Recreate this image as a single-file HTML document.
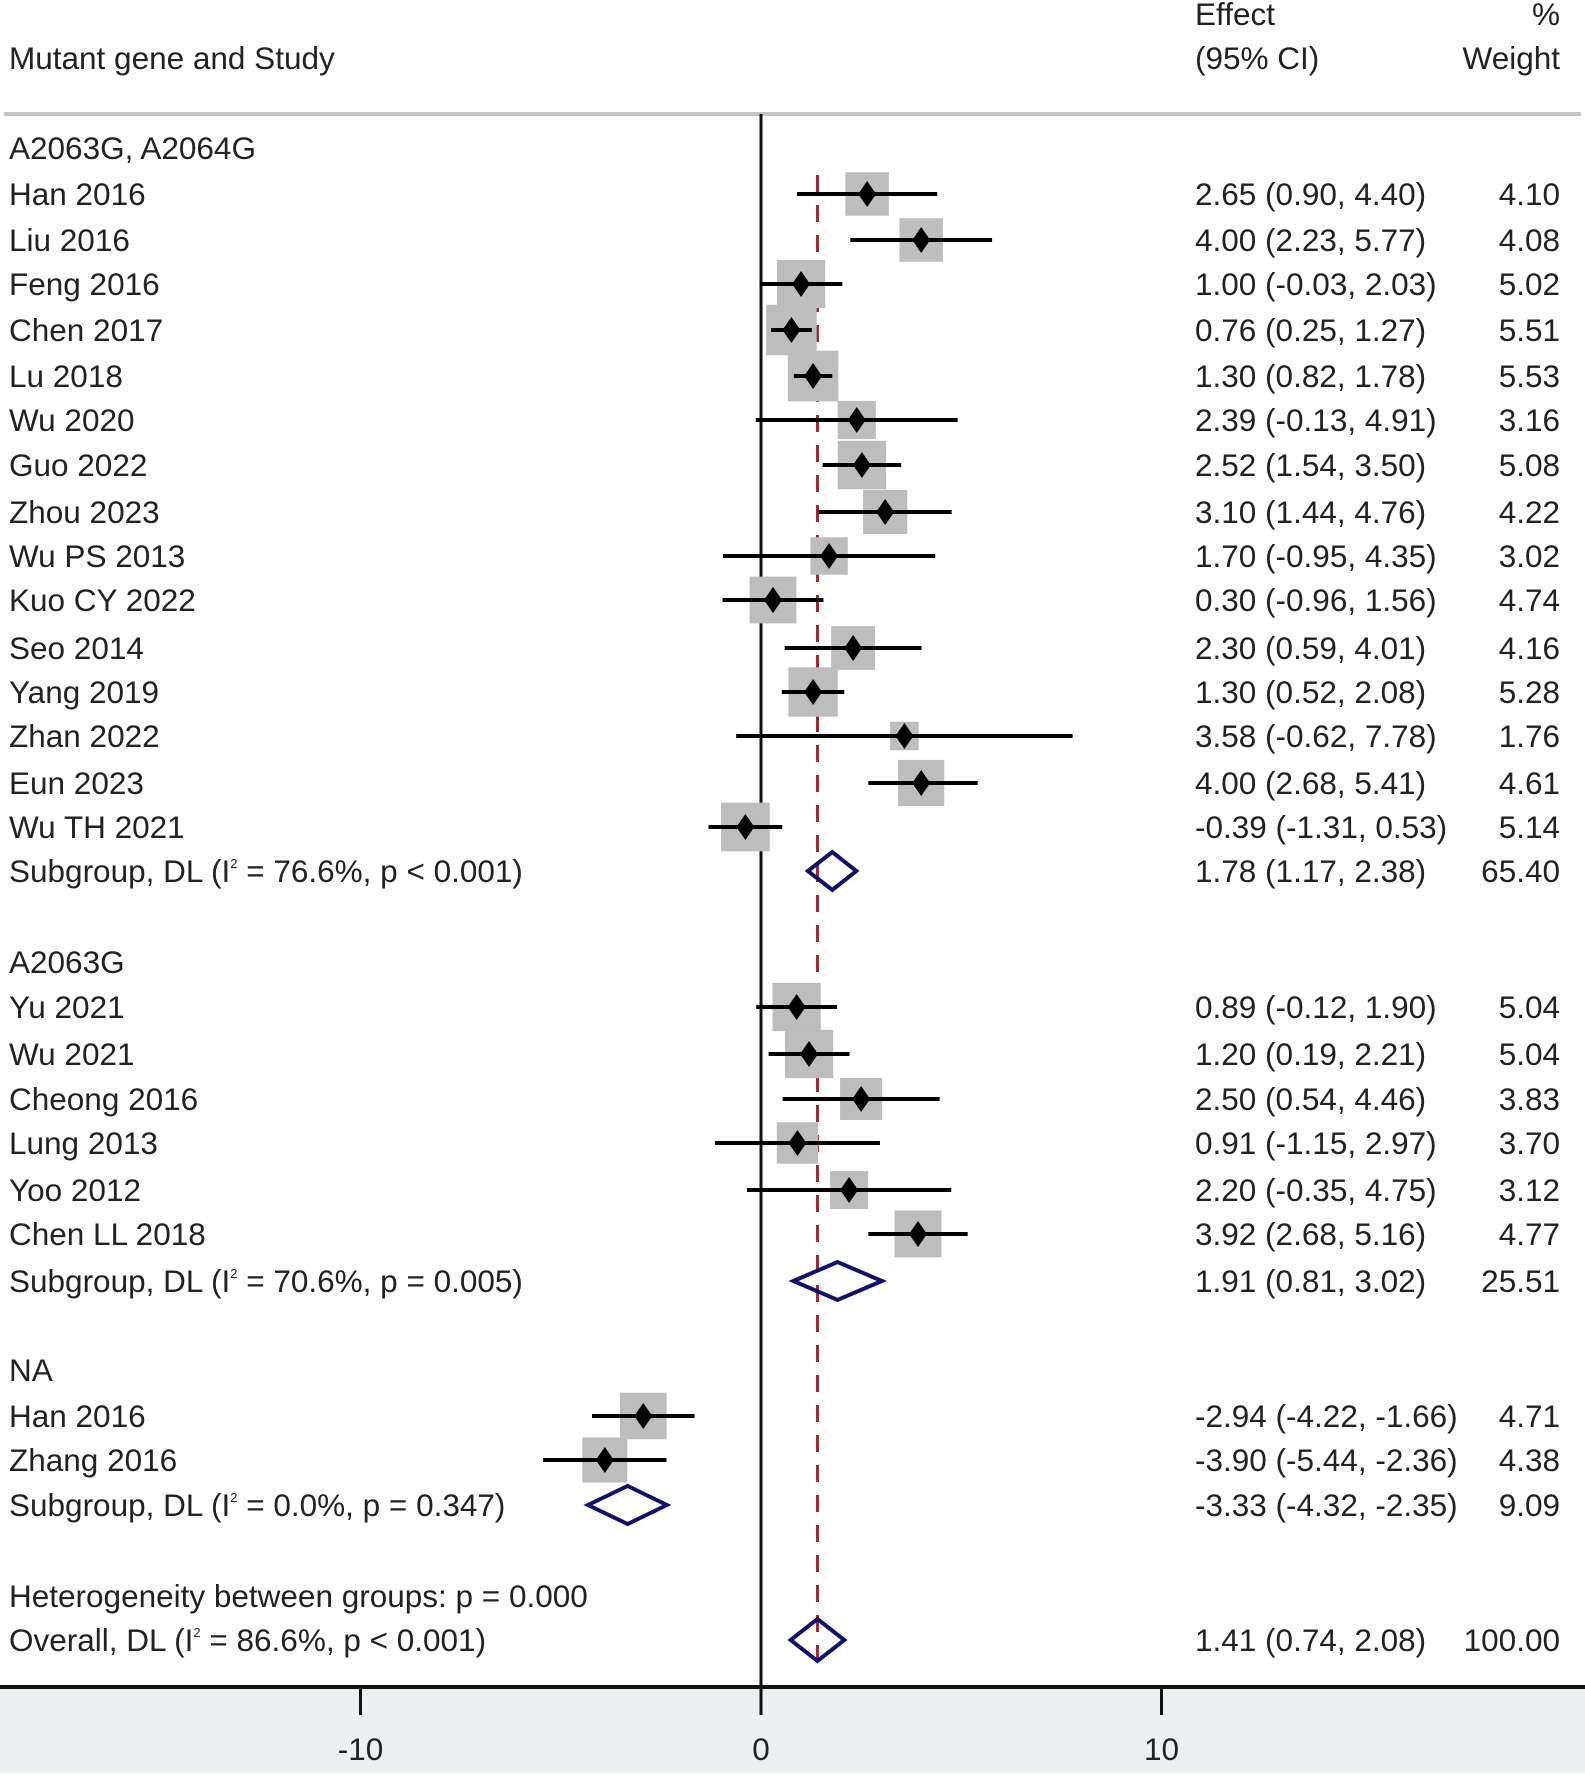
<!DOCTYPE html>
<html><head><meta charset="utf-8"><style>
html,body{margin:0;padding:0;background:#fff}
svg{display:block}
text{font-family:"Liberation Sans",sans-serif;font-size:31.5px;fill:#222}
</style></head><body>
<svg id="plot" width="1585" height="1778" viewBox="0 0 1585 1778" xmlns="http://www.w3.org/2000/svg">
<rect x="0" y="1687" width="1585" height="86" fill="#e9f1f3"/>
<line x1="4" y1="114" x2="1581" y2="114" stroke="#c4c4c4" stroke-width="4"/>
<text x="9" y="69">Mutant gene and Study</text>
<text x="1195" y="25">Effect</text>
<text x="1195" y="69">(95% CI)</text>
<text x="1560" y="25" text-anchor="end">%</text>
<text x="1560" y="69" text-anchor="end">Weight</text>
<g id="g"></g>
</svg>
<script>
// data
const studyLabels = ["Han 2016","Liu 2016","Feng 2016","Chen 2017","Lu 2018","Wu 2020","Guo 2022","Zhou 2023","Wu PS 2013","Kuo CY 2022","Seo 2014","Yang 2019","Zhan 2022","Eun 2023","Wu TH 2021",
"Yu 2021","Wu 2021","Cheong 2016","Lung 2013","Yoo 2012","Chen LL 2018","Han 2016","Zhang 2016"];
const studyEffect = [2.65,4.00,1.00,0.76,1.30,2.39,2.52,3.10,1.70,0.30,2.30,1.30,3.58,4.00,-0.39,0.89,1.20,2.50,0.91,2.20,3.92,-2.94,-3.90];
const studyLower = [0.90,2.23,-0.03,0.25,0.82,-0.13,1.54,1.44,-0.95,-0.96,0.59,0.52,-0.62,2.68,-1.31,-0.12,0.19,0.54,-1.15,-0.35,2.68,-4.22,-5.44];
const studyUpper = [4.40,5.77,2.03,1.27,1.78,4.91,3.50,4.76,4.35,1.56,4.01,2.08,7.78,5.41,0.53,1.90,2.21,4.46,2.97,4.75,5.16,-1.66,-2.36];
const studyWeight = ["4.10","4.08","5.02","5.51","5.53","3.16","5.08","4.22","3.02","4.74","4.16","5.28","1.76","4.61","5.14","5.04","5.04","3.83","3.70","3.12","4.77","4.71","4.38"];
const studyRowY = [194,240,284,330,376,420,465,512,556,600,648,692,736,783,827,1007,1054,1099,1143,1190,1234,1416,1460];
const groupLabels = ["A2063G, A2064G","A2063G","NA"];
const groupRowY = [148,962,1370];
const pooledLabels = ["Subgroup, DL (I|2| = 76.6%, p < 0.001)","Subgroup, DL (I|2| = 70.6%, p = 0.005)","Subgroup, DL (I|2| = 0.0%, p = 0.347)","Overall, DL (I|2| = 86.6%, p < 0.001)"];
const pooledEffect = [1.78,1.91,-3.33,1.41];
const pooledLower = [1.17,0.81,-4.32,0.74];
const pooledUpper = [2.38,3.02,-2.35,2.08];
const pooledWeight = ["65.40","25.51","9.09","100.00"];
const pooledRowY = [871,1281,1505,1640];
const tickValues = [-10,0,10];
const tickLabels = ["-10","0","10"];

const NS="http://www.w3.org/2000/svg";
const g=document.getElementById('g');
const X=v=>761+v*40.05;
function mk(t,a,parent){const e=document.createElementNS(NS,t);for(const k in a)e.setAttribute(k,a[k]);(parent||g).appendChild(e);return e;}
function txt(s,x,y,anchor){const e=mk('text',{x:x,y:y});if(anchor)e.setAttribute('text-anchor',anchor);
  const parts=s.split('|');parts.forEach((p,i)=>{const t=document.createElementNS(NS,'tspan');
  if(i%2===1){t.setAttribute('font-size','13');t.setAttribute('dy','-14');}else if(i>0){t.setAttribute('dy','14');}
  t.textContent=p;e.appendChild(t);});return e;}
const f=v=>v.toFixed(2);

const z=mk('line',{x1:X(0),y1:114,x2:X(0),y2:1715,stroke:'#111','stroke-width':3});


const ov=mk('line',{x1:X(pooledEffect[3]),y1:175,x2:X(pooledEffect[3]),y2:1665,stroke:'#9b2a35','stroke-width':3,'stroke-dasharray':'17 13'});



groupLabels.forEach((s,i)=>{const t=txt(s,9,groupRowY[i]+11);

});

studyLabels.forEach((s,i)=>{
  const y=studyRowY[i];
  const side=21.5*Math.sqrt(parseFloat(studyWeight[i]));
  const b=mk('rect',{x:X(studyEffect[i])-side/2,y:y-side/2,width:side,height:side,fill:'#bdbdbd'});
  
  
  const l=mk('line',{x1:X(studyLower[i]),y1:y,x2:X(studyUpper[i]),y2:y,stroke:'#000','stroke-width':4});
  
  
  const cx=X(studyEffect[i]);
  const d=mk('polygon',{points:`${cx},${y-13} ${cx+9},${y} ${cx},${y+13} ${cx-9},${y}`,fill:'#000'});
  
  
  const t1=txt(s,9,y+11);
  
  
  const t2=txt(`${f(studyEffect[i])} (${f(studyLower[i])}, ${f(studyUpper[i])})`,1195,y+11);
  
  
  const t3=txt(studyWeight[i],1560,y+11,'end');
  
  
});

pooledLabels.forEach((s,i)=>{
  const y=pooledRowY[i],h=i===3?21:19;
  const p=mk('polygon',{points:`${X(pooledLower[i])},${y} ${X(pooledEffect[i])},${y-h} ${X(pooledUpper[i])},${y} ${X(pooledEffect[i])},${y+h}`,fill:'none',stroke:'#10106e','stroke-width':4});
  
  
  const t1=txt(s,9,y+11);
  
  
  const t2=txt(`${f(pooledEffect[i])} (${f(pooledLower[i])}, ${f(pooledUpper[i])})`,1195,y+11);
  
  
  const t3=txt(pooledWeight[i],1560,y+11,'end');
  
  
});
const het=txt('Heterogeneity between groups: p = 0.000',9,1607);



const ax=mk('line',{x1:0,y1:1687,x2:1585,y2:1687,stroke:'#111','stroke-width':4});


tickValues.forEach((v,i)=>{
  const t=mk('line',{x1:X(v),y1:1687,x2:X(v),y2:1715,stroke:'#111','stroke-width':3});
  
  
  const l=txt(tickLabels[i],X(v),1760,'middle');
  
  
});
</script>
</body></html>
